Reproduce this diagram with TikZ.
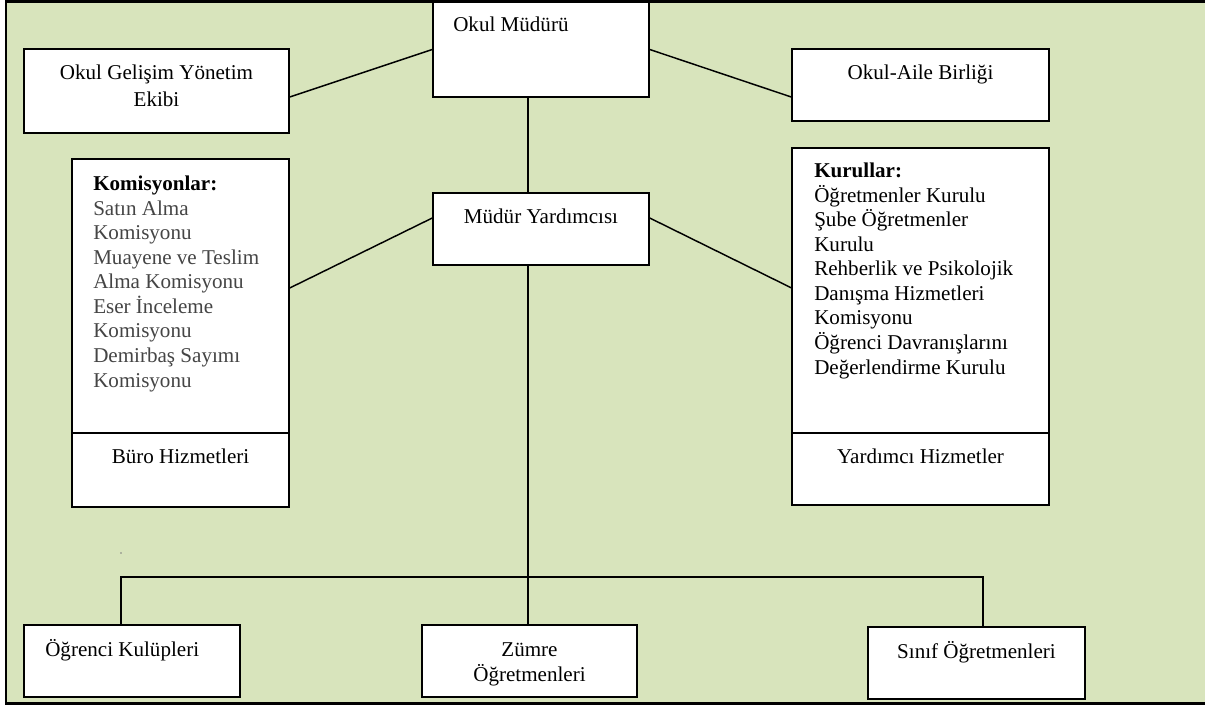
\documentclass[tikz,border=0pt]{standalone}
\usepackage{fontspec}
\setmainfont{Liberation Serif}
\usetikzlibrary{positioning,fit}
\definecolor{bggreen}{HTML}{D8E4BC}
\definecolor{listgray}{HTML}{454545}

\begin{document}
\begin{tikzpicture}[x=0.75pt, y=-0.75pt,
  every node/.style={font=\fontsize{15.8}{18.4}\selectfont},
  box/.style={draw, fill=white, line width=1.1pt, inner sep=0pt},
  boxtext/.style={anchor=base, inner sep=0pt, align=center},
  listtext/.style={anchor=base west, inner sep=0pt, align=left},
  link/.style={line width=1.1pt}]
  \useasboundingbox (0,0) rectangle (1205,706);
  \draw[line width=1.8pt, fill=bggreen] (6,1.5) rectangle (1214,703.5);

  \node[box, fit={(433,2) (649,97)}] (mudur) {};
  \node[box, fit={(24,49) (289,133)}] (ogye) {};
  \node[box, fit={(792,49) (1049,121)}] (oab) {};
  \node[box, fit={(433,193) (649,265)}] (yard) {};
  \node[box, fit={(72,159) (289,433)}] (komis) {};
  \node[box, fit={(72,433) (289,507)}] (buro) {};
  \node[box, fit={(792,148) (1049,433)}] (kurul) {};
  \node[box, fit={(792,433) (1049,505)}] (yardh) {};
  \node[box, fit={(24,625) (240,697)}] (ogr) {};
  \node[box, fit={(422,625) (637,697)}] (zumre) {};
  \node[box, fit={(868,627) (1085,699)}] (sinif) {};

  \node[listtext] (mudurtxt) at (453,32) {Okul Müdürü};
  \node[boxtext] (ogyetxt) at ([yshift=-43.5pt]ogye.north) {Okul Gelişim Yönetim\\[2pt]Ekibi};
  \node[boxtext] (oabtxt) at ([yshift=-23.25pt]oab.north) {Okul-Aile Birliği};
  \node[boxtext] (yardtxt) at ([yshift=-23.25pt]yard.north) {Müdür Yardımcısı};
  \node[boxtext] (burotxt) at ([yshift=-23.25pt]buro.north) {Büro Hizmetleri};
  \node[boxtext] (yardhtxt) at ([yshift=-23.25pt]yardh.north) {Yardımcı Hizmetler};
  \node[listtext] (ogrtxt) at (45,656) {Öğrenci Kulüpleri};
  \node[boxtext] (zumretxt) at ([yshift=-42.75pt]zumre.north) {Zümre\\Öğretmenleri};
  \node[boxtext] (siniftxt) at ([yshift=-24pt]sinif.north) {Sınıf Öğretmenleri};

  \node[listtext, text=listgray] (komistxt) at (93,387)
    {\textcolor{black}{\textbf{Komisyonlar:}}\\Satın Alma\\Komisyonu\\Muayene ve Teslim\\Alma Komisyonu\\Eser İnceleme\\Komisyonu\\Demirbaş Sayımı\\Komisyonu};
  \node[listtext] (kurultxt) at (814,374)
    {\textbf{Kurullar:}\\Öğretmenler Kurulu\\Şube Öğretmenler\\Kurulu\\Rehberlik ve Psikolojik\\Danışma Hizmetleri\\Komisyonu\\Öğrenci Davranışlarını\\Değerlendirme Kurulu};

  \coordinate (trunk) at (528,577);
  \coordinate (busL) at (121,577);
  \coordinate (busR) at (983,577);

  \draw[link] (mudur.west) -- ([yshift=-4.5pt]ogye.east);
  \draw[link] (mudur.east) -- ([yshift=-9pt]oab.west);
  \draw[link] ([yshift=8.25pt]yard.west) -- ([yshift=6pt]komis.east);
  \draw[link] ([yshift=8.25pt]yard.east) -- ([yshift=2pt]kurul.west);
  \draw[link] (mudur.south -| trunk) -- (yard.north -| trunk);
  \draw[link] (yard.south -| trunk) -- (zumre.north -| trunk);
  \draw[link] (ogr.north -| busL) -- (busL) -- (busR) -- (sinif.north -| busR);
  \fill[gray] (121,553) circle (0.6pt);
\end{tikzpicture}
\end{document}
